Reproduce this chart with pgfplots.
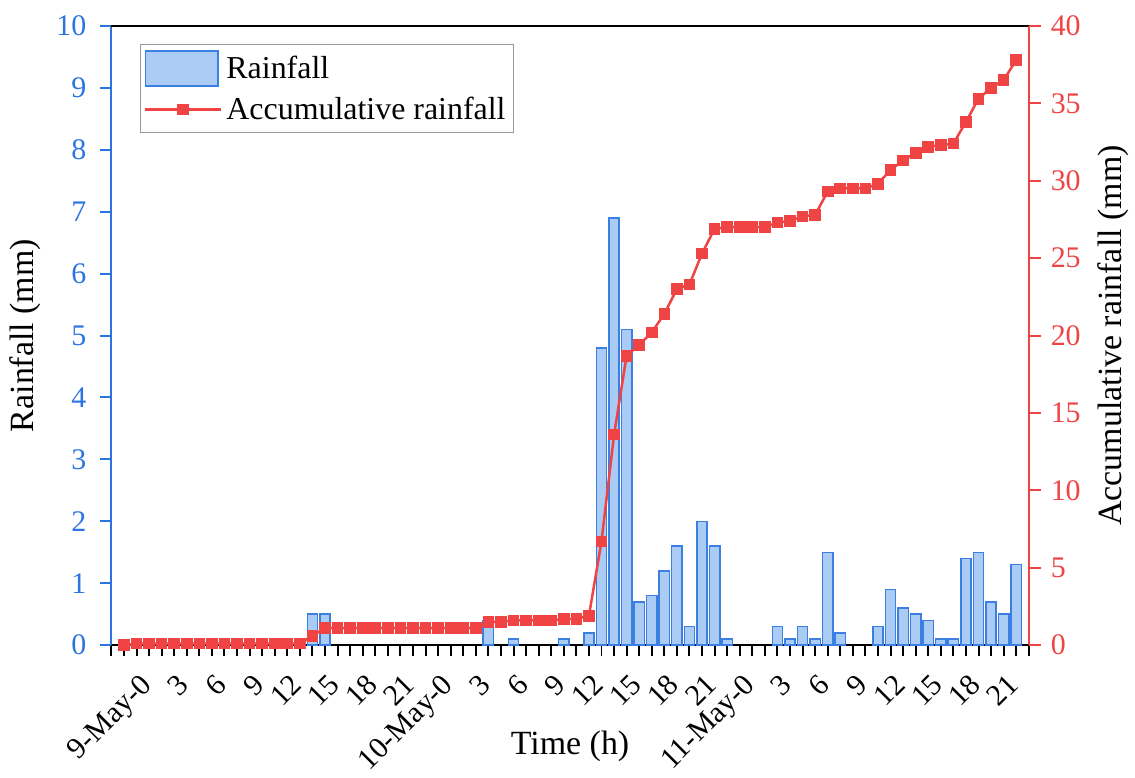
\documentclass[border=0pt]{standalone}
\usepackage{fontspec}
\setmainfont{Liberation Serif}
\usepackage{pgfplots}
\pgfplotsset{compat=1.18}
\definecolor{barfill}{HTML}{AACBF4}
\definecolor{baredge}{HTML}{3B7FE3}
\definecolor{axblue}{HTML}{2C74E0}
\definecolor{myred}{HTML}{F04444}
\pgfplotsset{
  barleg/.style={legend image code/.code={\draw[##1] (0pt,-8.75pt) rectangle (36.5pt,8.75pt);}},
  lineleg/.style={legend image code/.code={\draw[mark repeat=2,mark phase=2,##1] plot coordinates {(0pt,0pt) (19pt,0pt) (38pt,0pt)};}},
}
\begin{document}
\begin{tikzpicture}
\begin{axis}[name=ax1,
  scale only axis, width=460pt, height=310.5pt,
  xmin=-2, xmax=71, ymin=0, ymax=10,
  axis x line*=bottom, axis y line*=left,
  tick align=outside,
  major tick length=5.5pt, minor tick length=5.5pt,
  xtick={0,3,...,69},
  xticklabels={9-May-0,3,6,9,12,15,18,21,10-May-0,3,6,9,12,15,18,21,11-May-0,3,6,9,12,15,18,21},
  minor xtick={-2,...,71},
  ytick={0,1,...,10},
  /pgf/number format/assume math mode=true,
  x axis line style={black, line width=1pt},
  y axis line style={axblue, line width=1pt},
  xtick style={black, line width=1pt},
  minor x tick style={black, line width=1pt},
  ytick style={axblue, line width=1pt},
  ticklabel style={font=\fontsize{15}{18}\selectfont},
  yticklabel style={axblue},
  yticklabel shift=3.5pt,
  xticklabel style={rotate=45, anchor=north east, inner sep=0pt, xshift=1.5pt},
  xticklabel shift=9pt,
  xlabel={Time (h)},
  xlabel style={at={(axis description cs:0.5,-0.164)}, anchor=center, font=\fontsize{17}{20}\selectfont},
  ylabel={Rainfall (mm)},
  ylabel style={at={(axis description cs:-0.094,0.5)}, anchor=center, font=\fontsize{17}{20}\selectfont},
  clip=false,
]
\addplot[ybar, bar width=0.82, fill=barfill, draw=baredge, line width=0.75pt] coordinates {
(0,0.1) (14,0.5) (15,0.5) (28,0.4) (30,0.1) (34,0.1) (36,0.2)
(37,4.8) (38,6.9) (39,5.1) (40,0.7) (41,0.8) (42,1.2) (43,1.6) (44,0.3) (45,2.0) (46,1.6) (47,0.1)
(51,0.3) (52,0.1) (53,0.3) (54,0.1) (55,1.5) (56,0.2)
(59,0.3) (60,0.9) (61,0.6) (62,0.5) (63,0.4) (64,0.1) (65,0.1) (66,1.4) (67,1.5) (68,0.7) (69,0.5) (70,1.3)
};
\end{axis}
\begin{axis}[
  scale only axis, width=460pt, height=310.5pt,
  xmin=-2, xmax=71, ymin=0, ymax=40,
  axis x line*=top, axis y line*=right,
  tick align=outside,
  major tick length=6pt,
  xtick=\empty,
  ytick={0,5,...,40},
  /pgf/number format/assume math mode=true,
  x axis line style={black, line width=1pt},
  y axis line style={myred, line width=1pt},
  ytick style={myred, line width=1pt},
  ticklabel style={font=\fontsize{15}{18}\selectfont},
  yticklabel style={myred},
  yticklabel shift=1.5pt,
  ylabel={Accumulative rainfall (mm)},
  ylabel style={at={(axis description cs:1.0916,0.5)}, anchor=center, rotate=0, font=\fontsize{17}{20}\selectfont},
  legend style={at={(axis description cs:0,1)}, anchor=north west, xshift=14.15pt, yshift=-9pt,
    draw=gray!80, line width=0.6pt, font=\fontsize{16}{19}\selectfont,
    inner xsep=2pt, inner ysep=3pt, row sep=3pt},
  legend cell align=left,
  clip=false,
]
\addlegendimage{fill=barfill, draw=baredge, line width=0.75pt, barleg}
\addlegendentry{Rainfall}
\addplot[myred, line width=1.25pt, mark=square*, mark size=2.3pt, mark options={fill=myred, draw=myred}, lineleg]
coordinates {
(-1,0) (0,0.1) (1,0.1) (2,0.1) (3,0.1) (4,0.1) (5,0.1) (6,0.1) (7,0.1) (8,0.1) (9,0.1) (10,0.1) (11,0.1) (12,0.1) (13,0.1)
(14,0.6) (15,1.1) (16,1.1) (17,1.1) (18,1.1) (19,1.1) (20,1.1) (21,1.1) (22,1.1) (23,1.1) (24,1.1) (25,1.1) (26,1.1) (27,1.1)
(28,1.5) (29,1.5) (30,1.6) (31,1.6) (32,1.6) (33,1.6) (34,1.7) (35,1.7) (36,1.9)
(37,6.7) (38,13.6) (39,18.7) (40,19.4) (41,20.2) (42,21.4) (43,23.0) (44,23.3) (45,25.3) (46,26.9)
(47,27.0) (48,27.0) (49,27.0) (50,27.0) (51,27.3) (52,27.4) (53,27.7) (54,27.8) (55,29.3) (56,29.5) (57,29.5) (58,29.5)
(59,29.8) (60,30.7) (61,31.3) (62,31.8) (63,32.2) (64,32.3) (65,32.4) (66,33.8) (67,35.3) (68,36.0) (69,36.5) (70,37.8)
};
\addlegendentry{Accumulative rainfall}
\end{axis}
\path (ax1.south west) +(-55.85pt,-66.5pt) rectangle +(511.65pt,323.5pt);
\end{tikzpicture}
\end{document}
